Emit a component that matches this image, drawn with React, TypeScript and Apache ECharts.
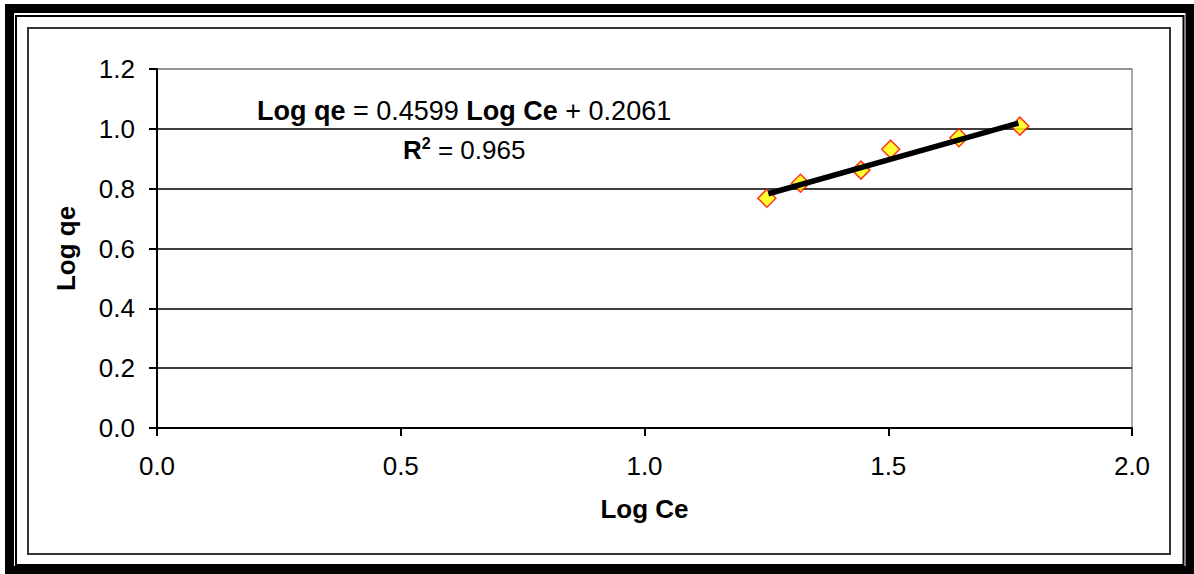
import React, { useEffect, useRef } from "react";
import * as echarts from "echarts";

const logCe = [1.251, 1.320, 1.444, 1.505, 1.645, 1.770];
const logQe = [0.768, 0.818, 0.862, 0.932, 0.970, 1.009];
const trendX = [1.254, 1.767];
const trendY = [0.783, 1.019];
const yTicks = [0, 0.2, 0.4, 0.6, 0.8, 1.0, 1.2];
const xTicks = [0, 0.5, 1.0, 1.5, 2.0];

const FONT = "'Liberation Sans', Arial, sans-serif";

export default function App() {
  const ref = useRef<HTMLDivElement>(null);
  useEffect(() => {
    if (!ref.current) return;
    const chart = echarts.init(ref.current, null, { renderer: "svg" });
    const splitColors = yTicks.map((v, i) => (i === yTicks.length - 1 ? "#8c8c8c" : "#000"));
    chart.setOption({
      animation: false,
      backgroundColor: "#fff",
      textStyle: { fontFamily: FONT },
      grid: {
        left: 157,
        right: 62,
        top: 69,
        bottom: 146,
        show: true,
        borderColor: "#8c8c8c",
        borderWidth: 1.5,
      },
      xAxis: {
        type: "value",
        min: xTicks[0],
        max: xTicks[xTicks.length - 1],
        interval: 0.5,
        name: "Log Ce",
        nameLocation: "middle",
        nameGap: 68,
        nameTextStyle: { fontSize: 26, fontWeight: "bold", color: "#000", fontFamily: FONT },
        axisLine: { show: true, onZero: false, lineStyle: { color: "#000", width: 2 } },
        axisTick: { show: true, length: 8, lineStyle: { color: "#000", width: 2 } },
        axisLabel: {
          fontSize: 26,
          color: "#000",
          margin: 25,
          fontFamily: FONT,
          formatter: (v: number) => v.toFixed(1),
        },
        splitLine: { show: false },
      },
      yAxis: {
        type: "value",
        min: yTicks[0],
        max: yTicks[yTicks.length - 1],
        interval: 0.2,
        name: "Log qe",
        nameLocation: "middle",
        nameGap: 78,
        nameTextStyle: { fontSize: 26, fontWeight: "bold", color: "#000", fontFamily: FONT },
        axisLine: { show: true, onZero: false, lineStyle: { color: "#000", width: 2 } },
        axisTick: { show: true, length: 8, lineStyle: { color: "#000", width: 2 } },
        axisLabel: {
          fontSize: 26,
          color: "#000",
          margin: 22,
          fontFamily: FONT,
          formatter: (v: number) => v.toFixed(1),
        },
        splitLine: { show: true, lineStyle: { color: splitColors, width: 1.5 } },
      },
      series: [
        {
          type: "scatter",
          name: "data",
          data: logCe.map((x, i) => [x, logQe[i]]),
          symbol: "diamond",
          symbolSize: 18,
          itemStyle: { color: "#ffff00", borderColor: "#ff0000", borderWidth: 1.5 },
          z: 3,
        },
        {
          type: "line",
          name: "trend",
          data: trendX.map((x, i) => [x, trendY[i]]),
          showSymbol: false,
          symbol: "none",
          lineStyle: { color: "#000", width: 5.5 },
          z: 4,
        },
      ],
      graphic: [
        {
          type: "rect",
          shape: { x: 9.5, y: 8.5, width: 1180.5, height: 562 },
          style: { fill: "none", stroke: "#000", lineWidth: 9 },
          silent: true,
        },
        {
          type: "rect",
          shape: { x: 16, y: 16, width: 1167.5, height: 549 },
          style: { fill: "none", stroke: "#000", lineWidth: 2 },
          silent: true,
        },
        {
          type: "rect",
          shape: { x: 28, y: 28, width: 1142, height: 526 },
          style: { fill: "none", stroke: "#333", lineWidth: 2 },
          silent: true,
        },
        {
          type: "text",
          x: 257,
          y: 111,
          style: {
            text: "{b|Log qe} {n|= 0.4599} {b|Log Ce} {n|+ 0.2061}",
            verticalAlign: "middle",
            align: "left",
            rich: {
              b: { fontSize: 27, fontWeight: "bold", fontFamily: FONT, fill: "#000" },
              n: { fontSize: 27, fontFamily: FONT, fill: "#000" },
            },
            fontSize: 27,
            fontFamily: FONT,
          },
          z: 10,
        },
        {
          type: "text",
          x: 403,
          y: 150,
          style: {
            text: "{b|R}{s|2}{n| = 0.965}",
            verticalAlign: "middle",
            align: "left",
            rich: {
              b: { fontSize: 26, fontWeight: "bold", fontFamily: FONT, fill: "#000", lineHeight: 30 },
              s: { fontSize: 16, fontWeight: "bold", fontFamily: FONT, fill: "#000", verticalAlign: "top", lineHeight: 30 },
              n: { fontSize: 26, fontFamily: FONT, fill: "#000", lineHeight: 30 },
            },
            fontSize: 26,
            fontFamily: FONT,
          },
          z: 10,
        },
      ],
    });
    return () => chart.dispose();
  }, []);
  return (
    <div
      ref={ref}
      style={{ position: "absolute", left: 0, top: 0, width: 1194, height: 574 }}
    />
  );
}
